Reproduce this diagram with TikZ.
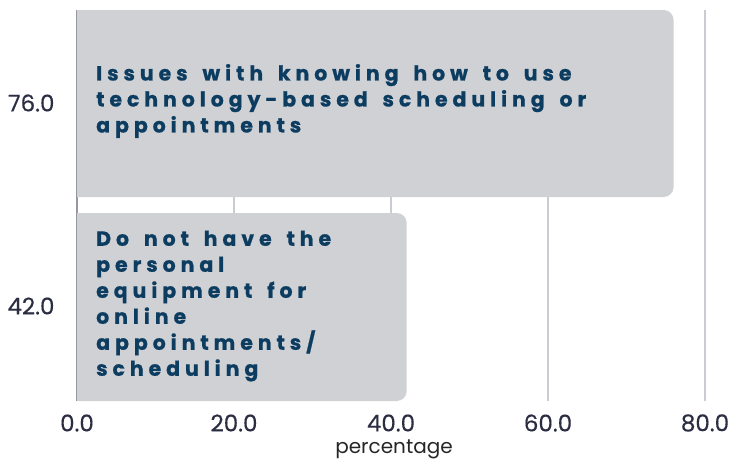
\documentclass[tikz,border=0pt]{standalone}
\usepackage{fontspec}
\setmainfont{Poppins}
\newfontfamily\barfont[LetterSpace=24,WordSpace=1.6,FakeBold=0.8]{Poppins}
\newfontfamily\tickfont[FakeBold=0.4]{Poppins}
\usepackage{tikz}
\usetikzlibrary{positioning}
\definecolor{barfill}{RGB}{208,209,213}
\definecolor{gridgray}{RGB}{202,204,210}
\definecolor{zerogray}{RGB}{150,152,160}
\definecolor{labnavy}{RGB}{43,46,66}
\definecolor{textblue}{RGB}{12,60,96}
\tikzset{
  % 网格线
  grid/.style={draw=gridgray, line width=1.2pt},
  % 零线
  zeroline/.style={draw=zerogray, line width=1.2pt},
  % 柱内文字
  bartext/.style={
    anchor=west,
    align=left,
    inner sep=0pt,
    text=textblue,
    font=\barfont\bfseries\fontsize{20.5}{26}\selectfont
  },
  % 刻度标签
  ticklab/.style={text=labnavy, font=\tickfont\fontsize{23}{26}\selectfont},
  % 轴标题
  axlab/.style={text=black!85, font=\fontsize{20}{22}\selectfont},
}

\begin{document}
\begin{tikzpicture}[x=1pt,y=-1pt]
    \useasboundingbox (0,0) rectangle (733,459);

    % Grid
    \draw[zeroline] (77,10) -- (77,401);
    \draw[grid] (234,10) -- (234,401);
    \draw[grid] (391,10) -- (391,401);
    \draw[grid] (548,10) -- (548,401);
    \draw[grid] (705,10) -- (705,401);

    % Bars
    \fill[barfill] (77,10) [rounded corners=10] -- (673.6,10) -- (673.6,197)
        [sharp corners] -- (77,197) -- cycle;
    \fill[barfill] (77,213) [rounded corners=10] -- (406.7,213) -- (406.7,401)
        [sharp corners] -- (77,401) -- cycle;

    % Bar labels
    \node[bartext] (q1) at (96,101) {Issues with knowing how to use\\technology-based scheduling or\\appointments};
    \node[bartext] (q2) at (96,306) {Do not have the\\personal\\equipment for\\online\\appointments/\\scheduling};

    % Values
    \node[ticklab, anchor=east] (v1) at (58,103) {76.0};
    \node[ticklab, anchor=east] (v2) at (58,306) {42.0};

    % Ticks
    \node[ticklab] (t0) at (77,423) {0.0};
    \node[ticklab] (t20) at (234,423) {20.0};
    \node[ticklab] (t40) at (391,423) {40.0};
    \node[ticklab] (t60) at (548,423) {60.0};
    \node[ticklab] (t80) at (705,423) {80.0};
    \node[axlab] (xlab) at (394,449) {percentage};
\end{tikzpicture}
\end{document}
